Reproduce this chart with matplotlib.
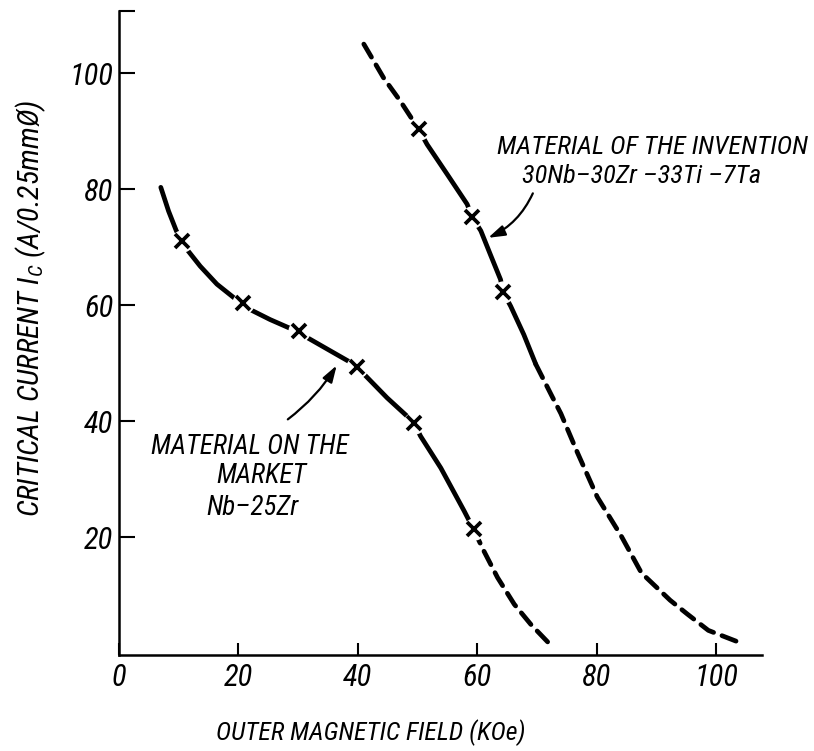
import matplotlib
matplotlib.use('Agg')
import matplotlib.pyplot as plt

plt.rcParams['font.family'] = ['Roboto Condensed', 'DejaVu Sans']
plt.rcParams['font.style'] = 'italic'
plt.rcParams['mathtext.fontset'] = 'custom'
plt.rcParams['mathtext.rm'] = 'Roboto Condensed:italic'
plt.rcParams['mathtext.it'] = 'Roboto Condensed:italic'

# Nb-25Zr (material on the market)
mkt_x = [7.0, 8.3, 9.6, 10.5, 11.6, 13.6, 16.4, 19.2, 20.7, 22.2, 25.3, 28.4, 30.2,
         31.5, 35.4, 38.8, 39.9, 41.3, 44.9, 48.5, 49.4, 50.5, 53.9, 57.8, 59.4]
mkt_y = [80.3, 76.2, 72.8, 71.0, 69.3, 66.7, 63.6, 61.3, 60.4, 59.1, 57.5, 56.1, 55.5,
         54.4, 52.1, 50.1, 49.3, 47.8, 44.0, 40.6, 39.7, 37.4, 31.9, 24.5, 21.3]
mkt_dash_x = [59.4, 61.1, 63.4, 66.2, 69.0, 71.8]
mkt_dash_y = [21.3, 17.6, 13.0, 8.4, 4.9, 1.9]
mkt_pts_x = [10.5, 20.7, 30.2, 39.9, 49.4, 59.4]
mkt_pts_y = [71.0, 60.4, 55.5, 49.3, 39.7, 21.3]

# 30Nb-30Zr-33Ti-7Ta (material of the invention)
inv_head_x = [41.0, 44.3, 47.1, 50.2]
inv_head_y = [105.0, 99.2, 95.2, 90.3]
inv_x = [50.2, 51.6, 55.0, 58.3, 59.2, 60.6, 62.2, 63.9, 64.3, 65.6, 67.8, 69.8]
inv_y = [90.3, 87.7, 82.5, 77.4, 75.1, 72.8, 68.7, 64.4, 62.3, 59.8, 54.9, 49.8]
inv_tail_x = [69.8, 72.6, 74.0, 76.8, 80.1, 84.1, 87.5, 92.3, 95.2, 98.7, 104.7]
inv_tail_y = [49.8, 44.1, 41.3, 34.5, 26.9, 20.2, 13.8, 9.1, 6.7, 3.9, 1.5]
inv_pts_x = [50.2, 59.2, 64.3]
inv_pts_y = [90.3, 75.1, 62.3]

x_ticks = [0, 20, 40, 60, 80, 100]
y_ticks = [20, 40, 60, 80, 100]
x_max = 107.7
y_min, y_max = -0.35, 110.7

fig = plt.figure(figsize=(8.14, 7.51), dpi=100)
ax = fig.add_axes([0.1462, 0.1278, 0.790, 0.8575])

lw = 3.4
dash = (3.2, 1.9)
ax.plot(mkt_x, mkt_y, color='black', lw=lw, solid_capstyle='round')
ax.plot(mkt_dash_x, mkt_dash_y, color='black', lw=lw, dashes=dash, dash_capstyle='round')
ax.plot(inv_head_x, inv_head_y, color='black', lw=lw, dashes=dash, dash_capstyle='round')
ax.plot(inv_x, inv_y, color='black', lw=lw, solid_capstyle='round')
ax.plot(inv_tail_x, inv_tail_y, color='black', lw=lw, dashes=dash, dash_capstyle='round')

# white blobs break the line around each cross
for px, py in [(mkt_pts_x, mkt_pts_y), (inv_pts_x, inv_pts_y)]:
    ax.plot(px, py, 'o', ms=15, mfc='white', mec='white', zorder=3)
    ax.plot(px, py, 'x', ms=10.5, mew=2.7, color='black', zorder=4)

ax.set_xlim(0, x_max)
ax.set_ylim(y_min, y_max)
ax.spines['top'].set_visible(False)
ax.spines['right'].set_visible(False)
ax.spines['left'].set_linewidth(1.8)
ax.spines['bottom'].set_linewidth(1.8)

ax.set_xticks(x_ticks)
ax.set_xticklabels([str(v) for v in x_ticks])
ax.set_yticks(y_ticks)
ax.set_yticklabels([str(v) for v in y_ticks])
ax.set_yticks([y_max], minor=True)
ax.tick_params(axis='x', direction='in', length=8.6, width=1.5, pad=6, labelsize=22)
ax.tick_params(axis='y', direction='in', length=11.5, width=1.5, pad=4, labelsize=22)
ax.tick_params(axis='y', which='minor', direction='in', length=11.5, width=1.5)

fig.text(0.456, 0.024, 'OUTER MAGNETIC FIELD (KOe)', fontsize=18.6, ha='center', va='center')
fig.text(0.038, 0.589, 'CRITICAL CURRENT I$_C$ (A/0.25mmØ)', fontsize=21.5,
         rotation=90, ha='center', va='center')

ax.text(89.4, 87.2, 'MATERIAL OF THE INVENTION', fontsize=19, ha='center', va='center')
ax.text(87.6, 82.2, '30Nb\u201330Zr \u201333Ti \u20137Ta', fontsize=19, ha='center', va='center')
ax.annotate('', xy=(61.4, 71.4), xytext=(69.5, 79.7),
            arrowprops=dict(arrowstyle='-|>,head_length=1.0,head_width=0.32',
                            color='black', lw=1.6, connectionstyle='arc3,rad=-0.2'))

ax.text(22.0, 35.5, 'MATERIAL ON THE', fontsize=19.5, ha='center', va='center')
ax.text(23.8, 30.5, 'MARKET', fontsize=19.5, ha='center', va='center')
ax.text(22.3, 25.0, 'Nb\u201325Zr', fontsize=19.5, ha='center', va='center')
ax.annotate('', xy=(36.7, 50.0), xytext=(27.9, 40.0),
            arrowprops=dict(arrowstyle='-|>,head_length=1.0,head_width=0.32',
                            color='black', lw=1.6, connectionstyle='arc3,rad=0.1'))

fig.savefig('out.png', dpi=100, facecolor='white')
